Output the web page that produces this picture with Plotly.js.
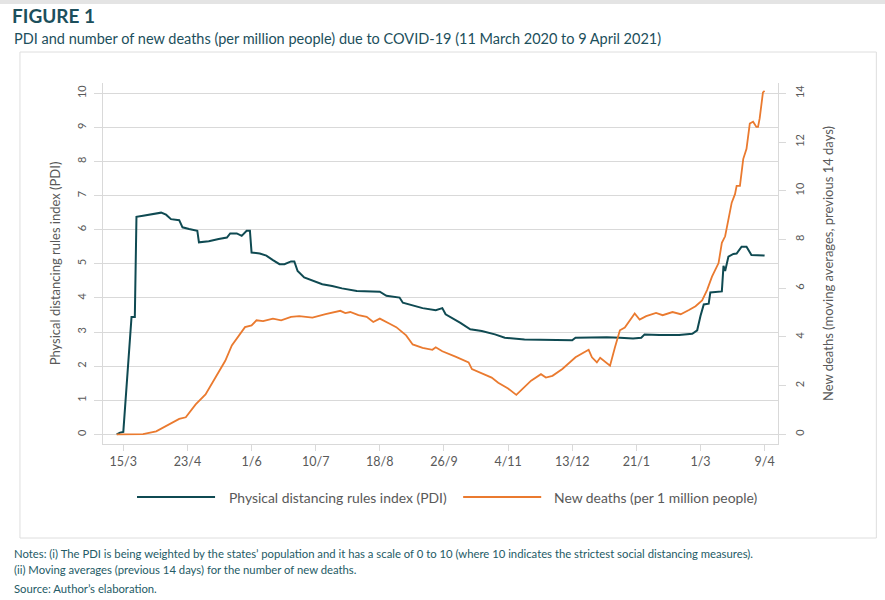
<!DOCTYPE html>
<html>
<head>
<meta charset="utf-8">
<script src="https://cdn.plot.ly/plotly-3.0.1.min.js"></script>
<style>
html,body{margin:0;padding:0;background:#fff;}
#chart{width:885px;height:600px;}
</style>
</head>
<body>
<div id="chart"></div>
<script>
// ---- data ----
const pdiDates = ['2020-03-11','2020-03-13','2020-03-15','2020-03-20','2020-03-22','2020-03-23','2020-03-27','2020-03-31','2020-04-03','2020-04-07','2020-04-10','2020-04-13','2020-04-18','2020-04-20','2020-04-24','2020-04-29','2020-04-30','2020-05-06','2020-05-12','2020-05-17','2020-05-19','2020-05-23','2020-05-26','2020-05-29','2020-05-31','2020-06-01','2020-06-06','2020-06-10','2020-06-14','2020-06-18','2020-06-21','2020-06-25','2020-06-27','2020-06-29','2020-07-03','2020-07-08','2020-07-14','2020-07-20','2020-07-26','2020-08-04','2020-08-12','2020-08-18','2020-08-22','2020-08-30','2020-09-01','2020-09-07','2020-09-13','2020-09-21','2020-09-25','2020-09-27','2020-10-01','2020-10-06','2020-10-12','2020-10-19','2020-10-27','2020-11-02','2020-11-14','2020-11-28','2020-12-13','2020-12-15','2021-01-03','2021-01-11','2021-01-19','2021-01-24','2021-01-26','2021-02-04','2021-02-16','2021-02-24','2021-02-27','2021-03-01','2021-03-03','2021-03-06','2021-03-07','2021-03-14','2021-03-15','2021-03-16','2021-03-18','2021-03-21','2021-03-23','2021-03-26','2021-03-29','2021-04-01','2021-04-05','2021-04-09'];
const pdiValues = [0.00,0.05,0.07,3.44,3.44,6.38,6.41,6.44,6.46,6.50,6.44,6.31,6.28,6.07,6.02,5.97,5.63,5.66,5.73,5.77,5.89,5.89,5.82,5.97,5.97,5.33,5.30,5.24,5.11,4.99,4.99,5.07,5.07,4.79,4.60,4.50,4.40,4.35,4.28,4.20,4.18,4.18,4.06,4.01,3.86,3.79,3.70,3.64,3.70,3.52,3.42,3.27,3.08,3.03,2.93,2.83,2.78,2.78,2.76,2.83,2.85,2.83,2.81,2.83,2.93,2.91,2.91,2.95,3.05,3.47,3.81,3.83,4.16,4.19,4.94,4.79,5.21,5.29,5.30,5.50,5.50,5.26,5.24,5.24];

const deathDates = ['2020-03-11','2020-03-27','2020-04-04','2020-04-12','2020-04-18','2020-04-22','2020-04-28','2020-05-04','2020-05-10','2020-05-16','2020-05-20','2020-05-28','2020-06-01','2020-06-04','2020-06-08','2020-06-14','2020-06-19','2020-06-25','2020-06-30','2020-07-08','2020-07-16','2020-07-25','2020-07-28','2020-07-31','2020-08-05','2020-08-10','2020-08-14','2020-08-18','2020-08-24','2020-08-28','2020-09-03','2020-09-07','2020-09-13','2020-09-19','2020-09-21','2020-09-25','2020-10-03','2020-10-11','2020-10-13','2020-10-19','2020-10-25','2020-10-29','2020-11-04','2020-11-09','2020-11-14','2020-11-18','2020-11-24','2020-11-27','2020-12-01','2020-12-07','2020-12-15','2020-12-19','2020-12-23','2020-12-25','2020-12-28','2020-12-30','2021-01-03','2021-01-05','2021-01-08','2021-01-11','2021-01-14','2021-01-18','2021-01-20','2021-01-23','2021-01-27','2021-02-02','2021-02-06','2021-02-12','2021-02-17','2021-02-22','2021-02-26','2021-03-02','2021-03-05','2021-03-08','2021-03-12','2021-03-14','2021-03-16','2021-03-20','2021-03-22','2021-03-23','2021-03-25','2021-03-27','2021-03-29','2021-03-31','2021-04-02','2021-04-04','2021-04-05','2021-04-06','2021-04-08','2021-04-09'];
const deathValues = [0.00,0.01,0.12,0.40,0.63,0.70,1.23,1.64,2.33,3.02,3.65,4.40,4.47,4.68,4.65,4.75,4.68,4.82,4.85,4.79,4.93,5.07,4.98,5.02,4.89,4.82,4.61,4.75,4.54,4.40,4.06,3.69,3.55,3.47,3.57,3.41,3.19,2.95,2.68,2.50,2.33,2.12,1.88,1.62,1.92,2.20,2.47,2.33,2.40,2.68,3.16,3.33,3.47,3.16,2.95,3.14,2.95,2.82,3.57,4.27,4.38,4.75,4.96,4.71,4.85,4.98,4.89,5.02,4.93,5.10,5.26,5.50,5.92,6.47,7.03,7.86,8.13,9.51,9.86,10.20,10.20,11.30,11.72,12.76,12.83,12.62,12.62,12.97,14.04,14.10];

const xTickDates = ['2020-03-15','2020-04-23','2020-06-01','2020-07-10','2020-08-18','2020-09-26','2020-11-04','2020-12-13','2021-01-21','2021-03-01','2021-04-09'];
const xTickLabels = ['15/3','23/4','1/6','10/7','18/8','26/9','4/11','13/12','21/1','1/3','9/4'];
const leftTicks = [0,1,2,3,4,5,6,7,8,9,10];
const rightTicks = [0,2,4,6,8,10,12,14];

const seriesNames = ['Physical distancing rules index (PDI)','New deaths (per 1 million people)'];
const seriesColors = ['#0f4a52','#ea7a2f'];

// ---- layout ----
const FONT = 'Lato, "Open Sans", sans-serif';
const GREY = '#595959';
const AX = '#d9d9d9';
const NOTE = '#245b66';
const PL = 103, PR = 777.7, PT = 83, PB = 444;
const px = x => (x - PL) / (PR - PL);
const py = y => (PB - y) / (PB - PT);

const traces = [
  {x: pdiDates, y: pdiValues, name: seriesNames[0], type: 'scatter', mode: 'lines',
   line: {color: seriesColors[0], width: 2}, yaxis: 'y', hoverinfo: 'x+y'},
  {x: deathDates, y: deathValues, name: seriesNames[1], type: 'scatter', mode: 'lines',
   line: {color: seriesColors[1], width: 1.8}, yaxis: 'y2', hoverinfo: 'x+y'}
];

const layout = {
  width: 885, height: 600,
  paper_bgcolor: '#fff', plot_bgcolor: '#fff',
  margin: {l: PL, r: 885 - PR, t: PT, b: 600 - PB, pad: 0},
  font: {family: FONT, color: GREY},
  showlegend: false,
  title: {text: '<b>FIGURE 1</b>', x: 12/885, xanchor: 'left', xref: 'container',
          y: 1 - 16/600, yanchor: 'middle', yref: 'container',
          font: {family: FONT, size: 19, color: '#1c4f5c'}},
  xaxis: {type: 'date', range: ['2020-03-02 15:36', '2021-04-17 03:36'],
          tickmode: 'array', tickvals: xTickDates, ticktext: xTickLabels,
          showgrid: false, zeroline: false, showline: true, linecolor: AX, linewidth: 1,
          ticks: 'outside', ticklen: 6, tickcolor: AX, tickwidth: 1,
          tickfont: {family: FONT, size: 12.5, color: GREY}},
  yaxis: {range: [-0.284, 10.302], tickmode: 'array', tickvals: leftTicks,
          showgrid: true, gridcolor: AX, gridwidth: 1,
          zeroline: false, showline: true, linecolor: AX, linewidth: 1,
          ticks: 'outside', ticklen: 8, tickcolor: AX, tickangle: -90, ticklabelstandoff: 4,
          tickfont: {family: FONT, size: 11, color: GREY},
          title: {text: 'Physical distancing rules index (PDI)', standoff: 11,
                  font: {family: FONT, size: 13, color: GREY}}},
  yaxis2: {range: [-0.398, 14.423], overlaying: 'y', side: 'right', tickmode: 'array', tickvals: rightTicks,
           showgrid: false, zeroline: false, showline: true, linecolor: AX, linewidth: 1,
           ticks: 'outside', ticklen: 7, tickcolor: AX, tickangle: -90, ticklabelstandoff: 5,
           tickfont: {family: FONT, size: 11, color: GREY},
           title: {text: 'New deaths (moving averages, previous 14 days)', standoff: 18,
                   font: {family: FONT, size: 13, color: GREY}}},
  shapes: [
    {type: 'rect', xref: 'paper', yref: 'paper', x0: px(20), x1: px(876), y0: py(538), y1: py(52),
     line: {color: '#dedede', width: 1}, fillcolor: 'rgba(0,0,0,0)', layer: 'below'},
    {type: 'rect', xref: 'paper', yref: 'paper', x0: px(0), x1: px(885), y0: py(4), y1: py(0),
     line: {width: 0}, fillcolor: '#e4e4e4', layer: 'below'},
    // hide the top (10) gridline, which the reference does not draw
    {type: 'line', xref: 'paper', yref: 'y', x0: 0.002, x1: 0.998, y0: 10, y1: 10,
     line: {color: '#ffffff', width: 3}, layer: 'between'},
    {type: 'line', xref: 'paper', yref: 'paper', x0: px(137), x1: px(215), y0: py(497), y1: py(497),
     line: {color: seriesColors[0], width: 2}},
    {type: 'line', xref: 'paper', yref: 'paper', x0: px(463), x1: px(541), y0: py(497), y1: py(497),
     line: {color: seriesColors[1], width: 2}}
  ],
  annotations: [
    {text: 'PDI and number of new deaths (per million people) due to COVID-19 (11 March 2020 to 9 April 2021)',
     xref: 'paper', yref: 'paper', x: px(12), y: py(38), xanchor: 'left', yanchor: 'middle',
     showarrow: false, font: {family: FONT, size: 14.5, color: '#1c4f5c'}},
    {text: seriesNames[0], xref: 'paper', yref: 'paper', x: px(227), y: py(497), xanchor: 'left', yanchor: 'middle',
     showarrow: false, font: {family: FONT, size: 13.9, color: GREY}},
    {text: seriesNames[1], xref: 'paper', yref: 'paper', x: px(552), y: py(497), xanchor: 'left', yanchor: 'middle',
     showarrow: false, font: {family: FONT, size: 13.9, color: GREY}},
    {text: 'Notes: (i) The PDI is being weighted by the states\u2019 population and it has a scale of 0 to 10 (where 10 indicates the strictest social distancing measures).',
     xref: 'paper', yref: 'paper', x: px(12), y: py(553), xanchor: 'left', yanchor: 'middle',
     showarrow: false, font: {family: FONT, size: 11.3, color: NOTE}},
    {text: '(ii) Moving averages (previous 14 days) for the number of new deaths.',
     xref: 'paper', yref: 'paper', x: px(12), y: py(569), xanchor: 'left', yanchor: 'middle',
     showarrow: false, font: {family: FONT, size: 11.3, color: NOTE}},
    {text: 'Source: Author\u2019s elaboration.',
     xref: 'paper', yref: 'paper', x: px(12), y: py(588), xanchor: 'left', yanchor: 'middle',
     showarrow: false, font: {family: FONT, size: 11.3, color: NOTE}}
  ]
};

Plotly.newPlot('chart', traces, layout, {displayModeBar: false, staticPlot: true});
</script>
</body>
</html>
